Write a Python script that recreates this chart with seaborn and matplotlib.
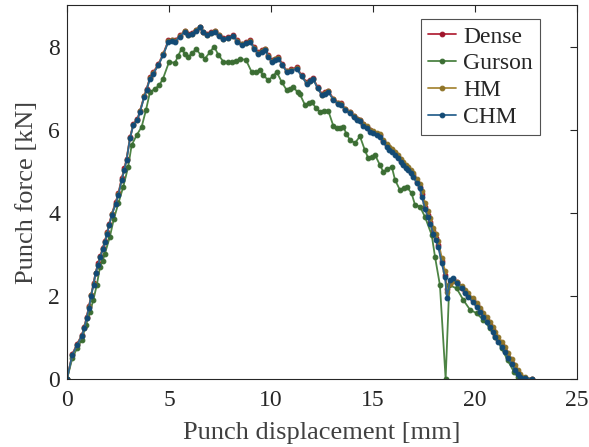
import matplotlib
matplotlib.use("Agg")
import matplotlib.pyplot as plt
import seaborn as sns
import pandas as pd

# Punch displacement [mm] shared by the Dense, HM and CHM simulations
disp_main = [0, 0.26, 0.5, 0.72, 0.85, 0.96, 1.08, 1.18, 1.3, 1.4, 1.52, 1.63, 1.75, 1.86, 1.97,
             2.07, 2.2, 2.38, 2.52, 2.68, 2.81, 2.92, 3.09, 3.25, 3.45, 3.58, 3.79, 3.9, 4.07, 4.23,
             4.48, 4.72, 4.97, 5.13, 5.29, 5.54, 5.78, 5.95, 6.11, 6.3, 6.52, 6.68, 6.85, 7.05, 7.25,
             7.45, 7.66, 7.9, 8.15, 8.35, 8.56, 8.76, 8.97, 9.18, 9.38, 9.55, 9.71, 9.87, 10.03, 10.2,
             10.36, 10.56, 10.77, 11.0, 11.26, 11.5, 11.75, 11.9, 12.07, 12.28, 12.49, 12.65, 12.81,
             13.05, 13.3, 13.45, 13.63, 13.87, 14.05, 14.2, 14.36, 14.53, 14.7, 14.86, 15.02, 15.18,
             15.34, 15.5, 15.67, 15.8, 15.92, 16.08, 16.24, 16.37, 16.49, 16.61, 16.73, 16.86, 16.98,
             17.14, 17.3, 17.39, 17.55, 17.68, 17.8, 17.96, 18.08, 18.2, 18.37, 18.53, 18.62, 18.78,
             18.9, 19.1, 19.35, 19.5, 19.67, 19.88, 20.08, 20.25, 20.41, 20.58, 20.74, 20.86, 20.98,
             21.15, 21.3, 21.47, 21.63, 21.8, 21.96, 22.1, 22.2, 22.45, 22.77]

# Punch force [kN]
force_chm = [0, 0.58, 0.82, 1.03, 1.22, 1.46, 1.72, 2.0, 2.27, 2.54, 2.74, 2.93, 3.12, 3.29, 3.5,
             3.7, 3.95, 4.21, 4.43, 4.79, 5.03, 5.27, 5.79, 6.11, 6.23, 6.43, 6.79, 6.95, 7.23, 7.35,
             7.55, 7.8, 8.12, 8.14, 8.12, 8.24, 8.36, 8.28, 8.3, 8.38, 8.46, 8.34, 8.28, 8.32, 8.36,
             8.26, 8.18, 8.2, 8.25, 8.12, 8.04, 8.08, 8.12, 7.95, 7.83, 7.88, 7.92, 7.76, 7.64, 7.68,
             7.71, 7.55, 7.39, 7.42, 7.47, 7.28, 7.11, 7.16, 7.21, 7.0, 6.83, 6.87, 6.91, 6.72,
             6.62, 6.6, 6.47, 6.4, 6.3, 6.23, 6.2, 6.1, 6.03, 5.95, 5.91, 5.87, 5.83, 5.7, 5.59,
             5.52, 5.47, 5.4, 5.31, 5.22, 5.15, 5.08, 5.03, 4.95, 4.87, 4.71, 4.59, 4.39, 4.1,
             3.9, 3.74, 3.5, 3.35, 3.18, 2.78, 2.46, 1.96, 2.38, 2.44, 2.32, 2.18, 2.08, 1.98,
             1.86, 1.74, 1.62, 1.5, 1.38, 1.26, 1.14, 1.02, 0.9, 0.78, 0.64, 0.5, 0.36, 0.22,
             0.12, 0.06, 0.03, 0.0]

force_dense = [0, 0.6, 0.85, 1.05, 1.25, 1.5, 1.75, 2.02, 2.3, 2.56, 2.78, 2.96, 3.15, 3.33, 3.53,
               3.74, 3.98, 4.25, 4.47, 4.83, 5.07, 5.3, 5.82, 6.13, 6.26, 6.46, 6.82, 6.98, 7.26, 7.38,
               7.58, 7.83, 8.15, 8.16, 8.15, 8.27, 8.38, 8.3, 8.33, 8.4, 8.47, 8.36, 8.31, 8.35, 8.38,
               8.29, 8.21, 8.23, 8.28, 8.15, 8.07, 8.11, 8.15, 7.98, 7.86, 7.91, 7.95, 7.79, 7.67, 7.71,
               7.74, 7.58, 7.42, 7.45, 7.5, 7.31, 7.14, 7.19, 7.24, 7.03, 6.86, 6.9, 6.94, 6.75,
               6.65, 6.63, 6.5, 6.43, 6.33, 6.26, 6.23, 6.13, 6.06, 5.98, 5.94, 5.9, 5.86, 5.73, 5.62,
               5.55, 5.5, 5.43, 5.34, 5.25, 5.18, 5.11, 5.06, 4.98, 4.9, 4.75, 4.63, 4.44, 4.15,
               3.95, 3.79, 3.55, 3.4, 3.22, 2.83, 2.5, 2.16, 2.3, 2.4, 2.33, 2.2, 2.1, 2.0,
               1.89, 1.77, 1.65, 1.53, 1.41, 1.29, 1.17, 1.05, 0.93, 0.81, 0.67, 0.53, 0.39, 0.25,
               0.14, 0.07, 0.03, 0.0]

force_hm = [0, 0.57, 0.83, 1.04, 1.23, 1.47, 1.73, 2.01, 2.28, 2.55, 2.75, 2.94, 3.13, 3.3, 3.51,
            3.71, 3.96, 4.22, 4.44, 4.8, 5.04, 5.28, 5.8, 6.12, 6.24, 6.44, 6.8, 6.96, 7.24, 7.36,
            7.56, 7.81, 8.13, 8.15, 8.13, 8.25, 8.38, 8.29, 8.31, 8.39, 8.48, 8.35, 8.29, 8.33, 8.37,
            8.27, 8.19, 8.21, 8.26, 8.13, 8.05, 8.09, 8.13, 7.96, 7.84, 7.89, 7.93, 7.77, 7.65, 7.69,
            7.72, 7.56, 7.4, 7.43, 7.48, 7.29, 7.12, 7.17, 7.22, 7.01, 6.84, 6.88, 6.92, 6.73,
            6.64, 6.62, 6.49, 6.43, 6.33, 6.26, 6.24, 6.14, 6.08, 6.0, 5.96, 5.92, 5.89, 5.76, 5.66,
            5.59, 5.54, 5.47, 5.39, 5.3, 5.23, 5.16, 5.11, 5.04, 4.96, 4.82, 4.7, 4.52, 4.24,
            4.04, 3.88, 3.64, 3.49, 3.31, 2.92, 2.6, 2.1, 2.28, 2.36, 2.34, 2.24, 2.15, 2.06,
            1.95, 1.84, 1.72, 1.6, 1.48, 1.36, 1.25, 1.13, 1.01, 0.9, 0.76, 0.62, 0.48, 0.34,
            0.22, 0.13, 0.05, 0.0]

# Gurson model run
disp_gurson = [0, 0.26, 0.5, 0.72, 0.93, 1.13, 1.29, 1.46, 1.62, 1.75, 1.86, 2.1, 2.3, 2.52, 2.76,
               3.0, 3.17, 3.42, 3.66, 3.87, 4.07, 4.31, 4.52, 4.7, 5.01, 5.29, 5.45, 5.62, 5.78,
               5.95, 6.15, 6.32, 6.55, 6.76, 7.0, 7.21, 7.42, 7.66, 7.87, 8.07, 8.3, 8.48, 8.77,
               9.05, 9.25, 9.46, 9.62, 9.87, 10.08, 10.28, 10.52, 10.77, 10.95, 11.1, 11.3, 11.42,
               11.67, 11.85, 12.0, 12.2, 12.4, 12.6, 12.81, 13.05, 13.22, 13.4, 13.54, 13.7, 13.87,
               14.12, 14.36, 14.6, 14.77, 14.95, 15.1, 15.34, 15.5, 15.7, 15.92, 16.08, 16.32, 16.5,
               16.65, 16.89, 17.06, 17.3, 17.55, 17.88, 18.04, 18.28, 18.56, 18.74, 19.1, 19.43,
               19.75, 20.08, 20.41, 20.74, 21.0, 21.3, 21.6, 21.9, 22.1, 22.3]

force_gurson = [0, 0.5, 0.75, 0.94, 1.3, 1.62, 1.9, 2.26, 2.7, 2.85, 3.02, 3.42, 3.86, 4.23, 4.63,
                5.11, 5.63, 5.87, 6.07, 6.47, 6.91, 6.98, 7.07, 7.22, 7.64, 7.6, 7.78, 7.95, 7.82,
                7.76, 7.84, 7.95, 7.8, 7.71, 7.86, 8.0, 7.8, 7.64, 7.62, 7.62, 7.66, 7.7, 7.68,
                7.39, 7.38, 7.43, 7.31, 7.19, 7.28, 7.39, 7.15, 6.95, 6.99, 7.03, 6.9, 6.85,
                6.59, 6.63, 6.67, 6.52, 6.43, 6.45, 6.45, 6.1, 6.03, 6.05, 6.07, 5.9, 5.75,
                5.68, 5.84, 5.51, 5.31, 5.35, 5.39, 5.15, 4.99, 5.05, 5.11, 4.79, 4.55, 4.6,
                4.63, 4.47, 4.19, 4.15, 3.9, 3.46, 2.94, 2.26, 0.0, 2.26, 2.18, 1.9,
                1.67, 1.58, 1.42, 1.22, 1.0, 0.75, 0.45, 0.18, 0.05, 0.0]

series = [
    ("Dense", disp_main, force_dense, "#b3283c", "#a0142c"),
    ("Gurson", disp_gurson, force_gurson, "#4d8444", "#3b6d33"),
    ("HM", disp_main, force_hm, "#a8893a", "#8f7428"),
    ("CHM", disp_main, force_chm, "#2d6590", "#124a75"),
]

sns.set_theme(style="white")
plt.rcParams["font.family"] = ["Liberation Serif", "DejaVu Serif"]
plt.rcParams["mathtext.fontset"] = "stix"

fig = plt.figure(figsize=(5.89, 4.47), dpi=100)
ax = fig.add_axes([67 / 589, 1 - 379 / 447, 510 / 589, 374 / 447])

for name, xs, ys, line_c, mark_c in series:
    df = pd.DataFrame({"disp": xs, "force": ys})
    sns.lineplot(data=df, x="disp", y="force", ax=ax, sort=False, estimator=None,
                 color=line_c, linewidth=1.3, marker="o", markersize=3.4,
                 markerfacecolor=mark_c, markeredgecolor=mark_c, label=name)

ax.set_xlim(0, 25)
ax.set_ylim(0, 9)
ax.set_xticks([0, 5, 10, 15, 20, 25])
ax.set_yticks([0, 2, 4, 6, 8])
ax.tick_params(direction="in", length=5, width=0.8, top=True, right=True,
               labelsize=17, colors="#262626")
ax.tick_params(axis="x", pad=8)
ax.tick_params(axis="y", pad=5)
for spine in ax.spines.values():
    spine.set_color("#262626")
    spine.set_linewidth(0.8)

ax.set_xlabel("Punch displacement [mm]", fontsize=19, color="#404040", labelpad=8)
ax.set_ylabel("Punch force [kN]", fontsize=19, color="#404040", labelpad=7)

leg = ax.legend(loc="upper right", bbox_to_anchor=(473 / 510, 360 / 374), fontsize=17,
                frameon=True, fancybox=False, edgecolor="#262626", borderaxespad=0,
                handlelength=1.2, labelspacing=0.22, borderpad=0.3, handletextpad=0.3)
leg.get_frame().set_linewidth(0.8)

fig.savefig("out.png", dpi=100)
